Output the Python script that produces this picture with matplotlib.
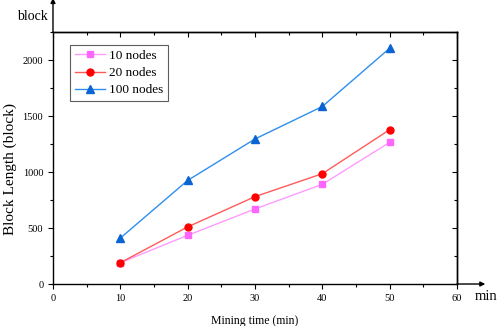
import matplotlib
matplotlib.use("Agg")
import matplotlib.pyplot as plt
from matplotlib.ticker import MultipleLocator

plt.rcParams['font.family'] = ['Liberation Serif', 'DejaVu Serif']

minutes = [10, 20, 30, 40, 50]
nodes10 = [190, 435, 670, 890, 1265]
nodes20 = [190, 510, 780, 985, 1378]
nodes100 = [410, 925, 1295, 1585, 2105]
labels = ['10 nodes', '20 nodes', '100 nodes']

fig = plt.figure(figsize=(4.98, 3.26), dpi=100)
ax = fig.add_axes([0.1064, 0.1288, 0.8113, 0.773])

ax.plot(minutes, nodes10, color='#FF9BFF', marker='s', markersize=4.3,
        markerfacecolor='#FF66FF', markeredgecolor='#FF66FF', lw=1, label=labels[0])
ax.plot(minutes, nodes20, color='#FF5A5A', marker='o', markersize=5,
        markerfacecolor='#FF0000', markeredgecolor='#FF0000', lw=1, label=labels[1])
ax.plot(minutes, nodes100, color='#2E8FEF', marker='^', markersize=5.5,
        markerfacecolor='#0A64D2', markeredgecolor='#0A64D2', lw=1, label=labels[2])

ax.set_xlim(0, 60)
ax.set_ylim(0, 2250)
ax.xaxis.set_major_locator(MultipleLocator(10))
ax.xaxis.set_minor_locator(MultipleLocator(5))
ax.yaxis.set_minor_locator(MultipleLocator(250))
ax.set_yticks([0, 500, 1000, 1500, 2000])

ax.tick_params(axis='both', which='major', direction='out', length=3.5, width=0.8,
               labelsize=7.5, top=False, right=False)
ax.tick_params(axis='both', which='minor', direction='out', length=2, width=0.8,
               top=False, right=False)

# top/right ticks pointing inward
secx = ax.secondary_xaxis('top')
secx.xaxis.set_major_locator(MultipleLocator(10))
secx.xaxis.set_minor_locator(MultipleLocator(5))
secx.tick_params(which='major', direction='in', length=3.5, width=0.8, labeltop=False)
secx.tick_params(which='minor', direction='in', length=2, width=0.8)
secy = ax.secondary_yaxis('right')
secy.set_yticks([0, 500, 1000, 1500, 2000])
secy.yaxis.set_minor_locator(MultipleLocator(250))
secy.tick_params(which='major', direction='in', length=3.5, width=0.8, labelright=False)
secy.tick_params(which='minor', direction='in', length=2, width=0.8)
for sp in list(secx.spines.values()) + list(secy.spines.values()):
    sp.set_linewidth(1.0)

for sp in ax.spines.values():
    sp.set_linewidth(1.0)

ax.set_xlabel('Mining time (min)', fontsize=8.5, labelpad=9)
ax.set_ylabel('Block Length (block)', fontsize=11)
ax.yaxis.set_label_coords(-0.088, 0.456)

leg = ax.legend(loc='upper left', bbox_to_anchor=(0.042, 0.948), fontsize=9.5,
                frameon=True, fancybox=False, edgecolor='#333333',
                handlelength=2.3, borderpad=0.35, labelspacing=0.38,
                handletextpad=0.3, borderaxespad=0)
leg.get_frame().set_linewidth(0.8)

# axis arrows
ax.annotate('', xy=(0, 1.135), xycoords='axes fraction', xytext=(0, 1.0),
            arrowprops=dict(arrowstyle='-|>', lw=1.0, color='black',
                            mutation_scale=7, shrinkA=0, shrinkB=0))
ax.annotate('', xy=(1.07, 0), xycoords='axes fraction', xytext=(1.0, 0),
            arrowprops=dict(arrowstyle='-|>', lw=1.0, color='black',
                            mutation_scale=7, shrinkA=0, shrinkB=0))
fig.text(48 / 498, 1 - 17 / 326, 'block', fontsize=10, ha='right', va='center')
fig.text(475 / 498, 1 - 297 / 326, 'min', fontsize=10.5, ha='left', va='center')

fig.savefig('out.png', dpi=100)
